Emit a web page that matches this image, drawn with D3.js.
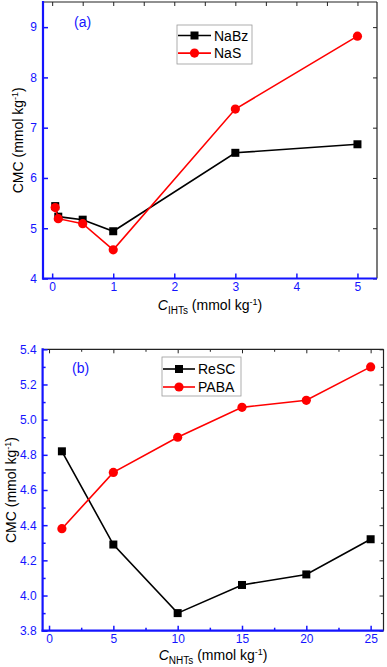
<!DOCTYPE html>
<html>
<head>
<meta charset="utf-8">
<script src="https://cdn.jsdelivr.net/npm/d3@7"></script>
<style>
  body { margin: 0; background: #fff; }
  svg { display: block; font-family: "Liberation Sans", Arial, sans-serif; }
</style>
</head>
<body>
<div id="chart"></div>
<script>
//Datos panel (a)
const concA = [0.05, 0.1, 0.5, 1, 3, 5];
const naBz = [5.44, 5.23, 5.17, 4.94, 6.5, 6.67];
const naS = [5.41, 5.19, 5.09, 4.57, 7.37, 8.82];
const xTicksA = [0, 1, 2, 3, 4, 5];
const xTopTicksA = [0, 0.5, 1, 1.5, 2, 2.5, 3, 3.5, 4, 4.5, 5];
const yTicksA = [4, 5, 6, 7, 8, 9];

//Datos panel (b)
const concB = [1, 5, 10, 15, 20, 25];
const reSC = [4.82, 4.29, 3.90, 4.06, 4.12, 4.32];
const paba = [4.38, 4.70, 4.90, 5.07, 5.11, 5.30];
const xTicksB = [0, 5, 10, 15, 20, 25];
const xMinorB = [2.5, 7.5, 12.5, 17.5, 22.5];
const yTicksB = [3.8, 4.0, 4.2, 4.4, 4.6, 4.8, 5.0, 5.2, 5.4];
const yMinorB = [3.9, 4.1, 4.3, 4.5, 4.7, 4.9, 5.1, 5.3];

//Colores fijos
const BLUE = '#1414ff',
  RED = '#ff0000',
  BLACK = '#000000';

let svg = d3.select('#chart')
  .append('svg')
    .attr('width', 387)
    .attr('height', 667);

function drawPanel(cfg) {
  let x = d3.scaleLinear().domain(cfg.xDomain).range([cfg.left, cfg.right]);
  let y = d3.scaleLinear().domain(cfg.yDomain).range([cfg.bottom, cfg.top]);
  let g = svg.append('g');

  //Marco superior y derecho
  g.append('line').attr('x1', cfg.left).attr('x2', cfg.right).attr('y1', cfg.top).attr('y2', cfg.top)
    .attr('stroke', '#222').attr('stroke-width', 1.2);
  g.append('line').attr('x1', cfg.right).attr('x2', cfg.right).attr('y1', cfg.top).attr('y2', cfg.bottom)
    .attr('stroke', '#222').attr('stroke-width', 1.2);

  //Ticks arriba y derecha (hacia dentro)
  let top = g.append('g').attr('transform', 'translate(0,' + cfg.top + ')')
    .call(d3.axisBottom(x).tickValues(cfg.xTop).tickSize(4).tickFormat(''));
  top.select('.domain').remove();
  top.selectAll('.tick line').attr('stroke', '#222');
  if (cfg.xMinor) {
    let topMinor = g.append('g').attr('transform', 'translate(0,' + cfg.top + ')')
      .call(d3.axisBottom(x).tickValues(cfg.xMinor).tickSize(2.5).tickFormat(''));
    topMinor.select('.domain').remove();
    topMinor.selectAll('.tick line').attr('stroke', '#222');
  }
  let right = g.append('g').attr('transform', 'translate(' + cfg.right + ',0)')
    .call(d3.axisLeft(y).tickValues(cfg.yTicks).tickSize(4).tickFormat(''));
  right.select('.domain').remove();
  right.selectAll('.tick line').attr('stroke', '#222');
  if (cfg.yMinor) {
    let rightMinor = g.append('g').attr('transform', 'translate(' + cfg.right + ',0)')
      .call(d3.axisLeft(y).tickValues(cfg.yMinor).tickSize(2.5).tickFormat(''));
    rightMinor.select('.domain').remove();
    rightMinor.selectAll('.tick line').attr('stroke', '#222');
  }

  //Eje X abajo (azul)
  let xAxis = g.append('g').attr('transform', 'translate(0,' + cfg.bottom + ')')
    .call(d3.axisTop(x).tickValues(cfg.xTicks).tickSize(5).tickPadding(-17).tickFormat(d3.format('d')));
  xAxis.select('.domain').remove();
  xAxis.selectAll('.tick line').attr('stroke', BLUE).attr('stroke-width', 1.5);
  xAxis.selectAll('.tick text').attr('fill', BLUE).attr('font-size', 12).attr('font-family', null);
  if (cfg.xMinor) {
    let xm = g.append('g').attr('transform', 'translate(0,' + cfg.bottom + ')')
      .call(d3.axisTop(x).tickValues(cfg.xMinor).tickSize(3).tickFormat(''));
    xm.select('.domain').remove();
    xm.selectAll('.tick line').attr('stroke', BLUE).attr('stroke-width', 1.5);
  }

  //Eje Y izquierda (azul)
  let yAxis = g.append('g').attr('transform', 'translate(' + cfg.left + ',0)')
    .call(d3.axisRight(y).tickValues(cfg.yTicks).tickSize(5).tickPadding(-17).tickFormat(d3.format(cfg.yFormat)));
  yAxis.select('.domain').remove();
  yAxis.selectAll('.tick line').attr('stroke', BLUE).attr('stroke-width', 1.5);
  yAxis.selectAll('.tick text').attr('fill', BLUE).attr('font-size', 12).attr('font-family', null)
    .attr('text-anchor', 'end').attr('x', -6);
  if (cfg.yMinor) {
    let ym = g.append('g').attr('transform', 'translate(' + cfg.left + ',0)')
      .call(d3.axisRight(y).tickValues(cfg.yMinor).tickSize(3).tickFormat(''));
    ym.select('.domain').remove();
    ym.selectAll('.tick line').attr('stroke', BLUE).attr('stroke-width', 1.5);
  }

  //Líneas de los ejes azules
  g.append('line').attr('x1', cfg.left).attr('x2', cfg.left).attr('y1', cfg.top - 1).attr('y2', cfg.bottom + 1)
    .attr('stroke', BLUE).attr('stroke-width', 2.2);
  g.append('line').attr('x1', cfg.left - 1).attr('x2', cfg.right).attr('y1', cfg.bottom).attr('y2', cfg.bottom)
    .attr('stroke', BLUE).attr('stroke-width', 2.2);

  //Series
  cfg.series.forEach(function(s) {
    g.append('path')
      .datum(s.values)
      .attr('fill', 'none')
      .attr('stroke', s.color)
      .attr('stroke-width', 1.6)
      .attr('d', d3.line()
        .x(function(d, i) { return x(cfg.xs[i]); })
        .y(function(d) { return y(d); }));

    if (s.marker == 'square') {
      g.selectAll('sq')
        .data(s.values)
        .enter()
        .append('rect')
        .attr('x', function(d, i) { return x(cfg.xs[i]) - 4; })
        .attr('y', function(d) { return y(d) - 4; })
        .attr('width', 8)
        .attr('height', 8)
        .attr('fill', s.color);
    } else {
      g.selectAll('ci')
        .data(s.values)
        .enter()
        .append('circle')
        .attr('cx', function(d, i) { return x(cfg.xs[i]); })
        .attr('cy', function(d) { return y(d); })
        .attr('r', 4.6)
        .attr('fill', s.color);
    }
  });

  //Leyenda
  let lg = cfg.legend;
  g.append('rect')
    .attr('x', lg.x).attr('y', lg.y).attr('width', lg.w).attr('height', lg.h)
    .attr('fill', 'white').attr('stroke', '#9a9a9a').attr('stroke-width', 0.8);
  cfg.series.forEach(function(s, i) {
    let ry = lg.y + lg.row0 + i * lg.step;
    g.append('line')
      .attr('x1', lg.x + 1).attr('x2', lg.x + 1 + lg.lineW)
      .attr('y1', ry).attr('y2', ry)
      .attr('stroke', s.color).attr('stroke-width', 1.6);
    let mx = lg.x + 1 + lg.lineW / 2;
    if (s.marker == 'square') {
      g.append('rect').attr('x', mx - 4).attr('y', ry - 4).attr('width', 8).attr('height', 8).attr('fill', s.color);
    } else {
      g.append('circle').attr('cx', mx).attr('cy', ry).attr('r', 4.6).attr('fill', s.color);
    }
    g.append('text')
      .attr('x', lg.x + lg.lineW + 4)
      .attr('y', ry + 5)
      .attr('font-size', 14)
      .text(s.name);
  });

  //Etiqueta del panel
  g.append('text')
    .attr('x', cfg.tag.x).attr('y', cfg.tag.y)
    .attr('fill', BLUE).attr('font-size', 14)
    .text(cfg.tag.text);

  //Título eje Y
  let yt = g.append('text')
    .attr('transform', 'translate(' + cfg.yTitleX + ',' + ((cfg.top + cfg.bottom) / 2) + ') rotate(-90)')
    .attr('text-anchor', 'middle')
    .attr('font-size', 14);
  yt.append('tspan').text('CMC (mmol kg');
  yt.append('tspan').attr('dy', -5).attr('font-size', 9).text('-1');
  yt.append('tspan').attr('dy', 5).text(')');

  //Título eje X
  let xt = g.append('text')
    .attr('x', (cfg.left + cfg.right) / 2)
    .attr('y', cfg.xTitleY)
    .attr('text-anchor', 'middle')
    .attr('font-size', 14);
  xt.append('tspan').attr('font-style', 'italic').text('C');
  xt.append('tspan').attr('dy', 4).attr('font-size', 10).text(cfg.sub);
  xt.append('tspan').attr('dy', -4).text(' (mmol kg');
  xt.append('tspan').attr('dy', -5).attr('font-size', 9).text('-1');
  xt.append('tspan').attr('dy', 5).text(')');
}

drawPanel({
  left: 43, right: 377, top: 2, bottom: 278.5,
  xDomain: [-0.15, 5.32], yDomain: [4, 9.5],
  xs: concA,
  xTicks: xTicksA, xTop: xTopTicksA, xMinor: null,
  yTicks: yTicksA, yMinor: null, yFormat: 'd',
  series: [
    { name: 'NaBz', values: naBz, color: BLACK, marker: 'square' },
    { name: 'NaS', values: naS, color: RED, marker: 'circle' }
  ],
  legend: { x: 177, y: 25, w: 75, h: 39, row0: 10.5, step: 17.6, lineW: 33 },
  tag: { text: '(a)', x: 74, y: 27 },
  yTitleX: 23, xTitleY: 310, sub: 'IHTs'
});

drawPanel({
  left: 42.6, right: 383.5, top: 349.3, bottom: 630.7,
  xDomain: [-0.5, 26], yDomain: [3.8, 5.4],
  xs: concB,
  xTicks: xTicksB, xTop: xTicksB, xMinor: xMinorB,
  yTicks: yTicksB, yMinor: yMinorB, yFormat: '.1f',
  series: [
    { name: 'ReSC', values: reSC, color: BLACK, marker: 'square' },
    { name: 'PABA', values: paba, color: RED, marker: 'circle' }
  ],
  legend: { x: 162, y: 357, w: 79, h: 39, row0: 12, step: 18, lineW: 32 },
  tag: { text: '(b)', x: 72, y: 373 },
  yTitleX: 16, xTitleY: 660, sub: 'NHTs'
});
</script>
</body>
</html>
